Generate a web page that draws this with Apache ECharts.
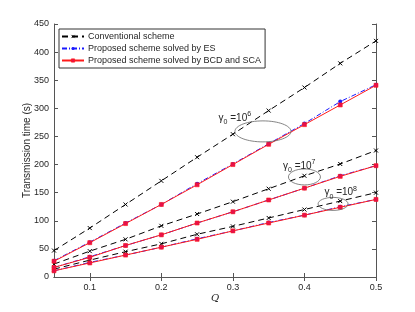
<!DOCTYPE html>
<html><head><meta charset="utf-8">
<script src="https://cdn.jsdelivr.net/npm/echarts@6/dist/echarts.min.js"></script>
<style>html,body{margin:0;padding:0;background:#fff}#c{width:415px;height:312px}</style>
</head><body><div id="c"></div>
<script>
const Q = [0.05,0.1,0.15,0.2,0.25,0.3,0.35,0.4,0.45,0.5];
const conv6 = [47,87,129,171,213,254,296,337,380,420];
const es6   = [29,62,96,129,166,201,237,273,312,342];
const bcd6  = [28,61,95,129,164,200,236,271,306,341];
const conv7 = [23,46,67,91,112,134,157,180,201,225];
const es7   = [17,36,56,75,96,116,137,158,180,198];
const bcd7  = [17,35,56,75,96,116,137,158,179,198];
const conv8 = [14,30,45,59,76,90,105,120,135,150];
const es8   = [11,26,39,53,68,82,97,110,125,138];
const bcd8  = [11,25,39,53,67,82,96,110,124,138];
const yTicks = [0,50,100,150,200,250,300,350,400,450];
const names = ['Conventional scheme','Proposed scheme solved by ES','Proposed scheme solved by BCD and SCA'];
const FONT = 'Liberation Sans';
const axisColor = '#555';
const txt = '#262626';
const crossPath = 'path://M0,0L10,10M10,0L0,10';

function pts(arr){ return Q.map((q,i)=>[q,arr[i]]); }
function convS(arr){ return {name:names[0],type:'line',data:pts(arr),symbol:crossPath,symbolSize:4,
  lineStyle:{color:'#000',width:1,type:[6,4]},itemStyle:{color:'rgba(0,0,0,0)',borderColor:'#000',borderWidth:1},z:2,animation:false}; }
function esS(arr){ return {name:names[1],type:'line',data:pts(arr),symbol:'circle',symbolSize:4,
  lineStyle:{color:'#1a1aff',width:1,type:[5,2,1,2]},itemStyle:{color:'#1a1aff',borderWidth:0},z:3,animation:false}; }
function bcdS(arr){ return {name:names[2],type:'line',data:pts(arr),symbol:'rect',symbolSize:4,
  lineStyle:{color:'#ff1a1a',width:1},itemStyle:{color:'#e8104a',borderColor:'#ff1a1a',borderWidth:0.6},z:4,animation:false}; }

const chart = echarts.init(document.getElementById('c'));
const axisCommon = {axisLine:{show:true,lineStyle:{color:axisColor,width:1}},
  axisTick:{show:true,inside:true,length:4,lineStyle:{color:axisColor}},
  splitLine:{show:false}};
const xt = [0.1,0.2,0.3,0.4,0.5];
chart.setOption({
  animation:false,
  textStyle:{fontFamily:FONT},
  grid:{left:54,right:39,top:24,bottom:35},
  legend:{left:59,top:29,orient:'vertical',itemGap:3,itemWidth:22,itemHeight:4,padding:[3,4,3,2],
    borderColor:'#333',borderWidth:1,backgroundColor:'#fff',
    itemStyle:{borderWidth:0.8},
    textStyle:{fontFamily:FONT,fontSize:9,color:txt,padding:[0,0,0,-1]},
    data:names},
  xAxis:[Object.assign({type:'value',min:0.05,max:0.5,
    name:'Q',nameLocation:'middle',nameGap:16,nameMoveOverlap:false,nameTextStyle:{fontFamily:'DejaVu Serif',fontStyle:'italic',fontSize:10,color:txt}},axisCommon,
    {axisTick:{show:true,inside:true,length:4,lineStyle:{color:axisColor},customValues:xt},
     axisLabel:{fontSize:9,color:txt,margin:6,customValues:xt,formatter:v=>(+v.toFixed(2)).toString()}}),
    Object.assign({type:'value',position:'top',min:0.05,max:0.5},axisCommon,
    {axisTick:{show:true,inside:true,length:4,lineStyle:{color:axisColor},customValues:xt},axisLabel:{show:false}})],
  yAxis:[Object.assign({type:'value',min:0,max:450,interval:50,
    name:'Transmission time (s)',nameLocation:'middle',nameGap:22,nameMoveOverlap:false,nameTextStyle:{fontSize:10,color:txt},
    axisLabel:{fontSize:9,color:txt,margin:5,formatter:v=>yTicks.includes(v)?String(v):''}},axisCommon),
    Object.assign({type:'value',position:'right',min:0,max:450,interval:50,axisLabel:{show:false}},axisCommon)],
  series:[convS(conv6),esS(es6),bcdS(bcd6),convS(conv7),esS(es7),bcdS(bcd7),convS(conv8),esS(es8),bcdS(bcd8)]
});

function P(x,y){ return chart.convertToPixel({xAxisIndex:0,yAxisIndex:0},[x,y]); }
const ell = [
  {c:[0.342,259],rx:28,ry:10.5, t:[0.28,283], e:'6'},
  {c:[0.4,178],rx:16,ry:8, t:[0.37,197], e:'7'},
  {c:[0.44,130],rx:15,ry:6.5, t:[0.428,150], e:'8'}
];
const g = [];
ell.forEach(o=>{
  const c = P(o.c[0],o.c[1]);
  g.push({type:'ellipse',shape:{cx:c[0],cy:c[1],rx:o.rx,ry:o.ry},style:{fill:'none',stroke:'#666',lineWidth:0.8},z:10,silent:true});
  const t = P(o.t[0],o.t[1]);
  g.push({type:'text',x:t[0],y:t[1],style:{text:'{g|γ}{s|0}{g| =10}{p|'+o.e+'}',
    rich:{g:{fontFamily:FONT,fontSize:10,fill:txt,color:txt},
          s:{fontFamily:FONT,fontSize:7,fill:txt,color:txt,verticalAlign:'bottom',padding:[8,0,0,0]},
          p:{fontFamily:FONT,fontSize:7,fill:txt,color:txt,verticalAlign:'top',padding:[0,0,6,0]}},
    fill:txt,verticalAlign:'middle'},z:10,silent:true});
});
chart.setOption({graphic:g});
</script></body></html>
